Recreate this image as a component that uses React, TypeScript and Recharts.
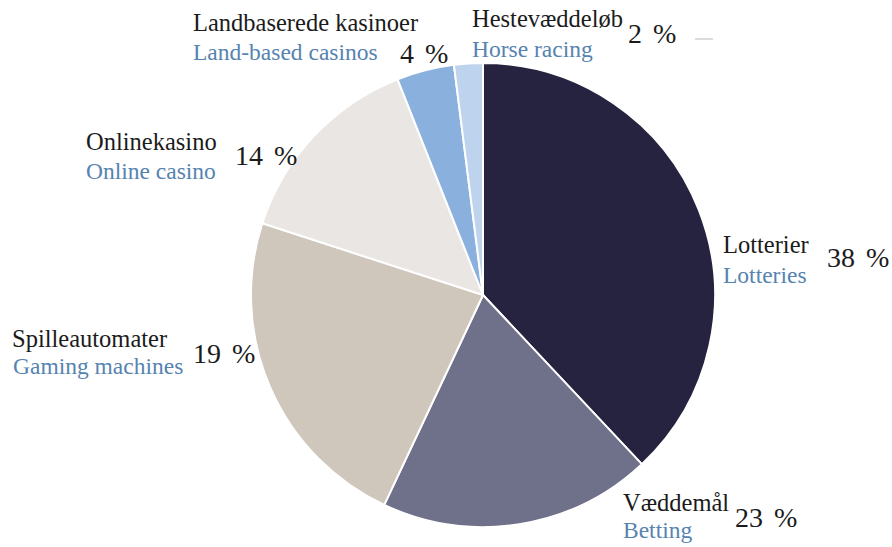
import { PieChart, Pie, Cell } from "recharts";

// Danish category names, English translations, drawn slice sizes and printed share labels
const namesDa = ["Lotterier", "Væddemål", "Spilleautomater", "Onlinekasino", "Landbaserede kasinoer", "Hestevæddeløb"];
const namesEn = ["Lotteries", "Betting", "Gaming machines", "Online casino", "Land-based casinos", "Horse racing"];
const sliceShares = [38, 19, 23, 14, 4, 2];
const printedShares = ["38 %", "23 %", "19 %", "14 %", "4 %", "2 %"];

const colors = ["#25233f", "#6f718a", "#cfc6bc", "#eae6e3", "#8ab0de", "#bdd3ee"];

// where each label block sits: Danish name, English name, percent
const labelLayout = [
  { x: 723, y: 253, ex: 723, ey: 283, px: 827, py: 267 },
  { x: 623, y: 511, ex: 623, ey: 538, px: 735, py: 527 },
  { x: 12, y: 347, ex: 13, ey: 374, px: 193, py: 363 },
  { x: 86, y: 150, ex: 86, ey: 179, px: 235, py: 165 },
  { x: 193, y: 31, ex: 193, ey: 60, px: 400, py: 63 },
  { x: 472, y: 27, ex: 472, ey: 57, px: 628, py: 43 },
];

const data = namesDa.map((name, i) => ({
  name,
  en: namesEn[i],
  value: sliceShares[i],
  pct: printedShares[i],
}));

const font = "Liberation Serif, Times New Roman, DejaVu Serif, serif";
const txt = (size: number, color: string) => ({ fontFamily: font, fontSize: size, fill: color });

const renderLabel = (props: any) => {
  const i = props.index;
  const pos = labelLayout[i];
  const d = data[i];
  return (
    <g key={`lbl-${i}`}>
      <text x={pos.x} y={pos.y} style={txt(24.5, "#1b1b1b")}>
        {d.name}
      </text>
      <text x={pos.ex} y={pos.ey} style={txt(23.5, "#5683b0")}>
        {d.en}
      </text>
      <text x={pos.px} y={pos.py} style={{ ...txt(28, "#1b1b1b"), wordSpacing: 4 }}>
        {d.pct}
      </text>
      {i === 5 && <line x1={695} y1={39} x2={713} y2={39} stroke="#d0d0d0" strokeWidth={1.5} />}
    </g>
  );
};

export default function App() {
  return (
    <div style={{ position: "absolute", left: 0, top: 0, background: "#fff" }}>
      <PieChart width={892} height={547} margin={{ top: 0, right: 0, bottom: 0, left: 0 }}>
        <Pie
          data={data}
          dataKey="value"
          nameKey="name"
          cx={483}
          cy={295}
          outerRadius={232}
          startAngle={90}
          endAngle={-270}
          stroke="#ffffff"
          strokeWidth={2}
          label={renderLabel}
          labelLine={false}
          isAnimationActive={false}
        >
          {data.map((d, i) => (
            <Cell key={d.name} fill={colors[i]} />
          ))}
        </Pie>
      </PieChart>
    </div>
  );
}
